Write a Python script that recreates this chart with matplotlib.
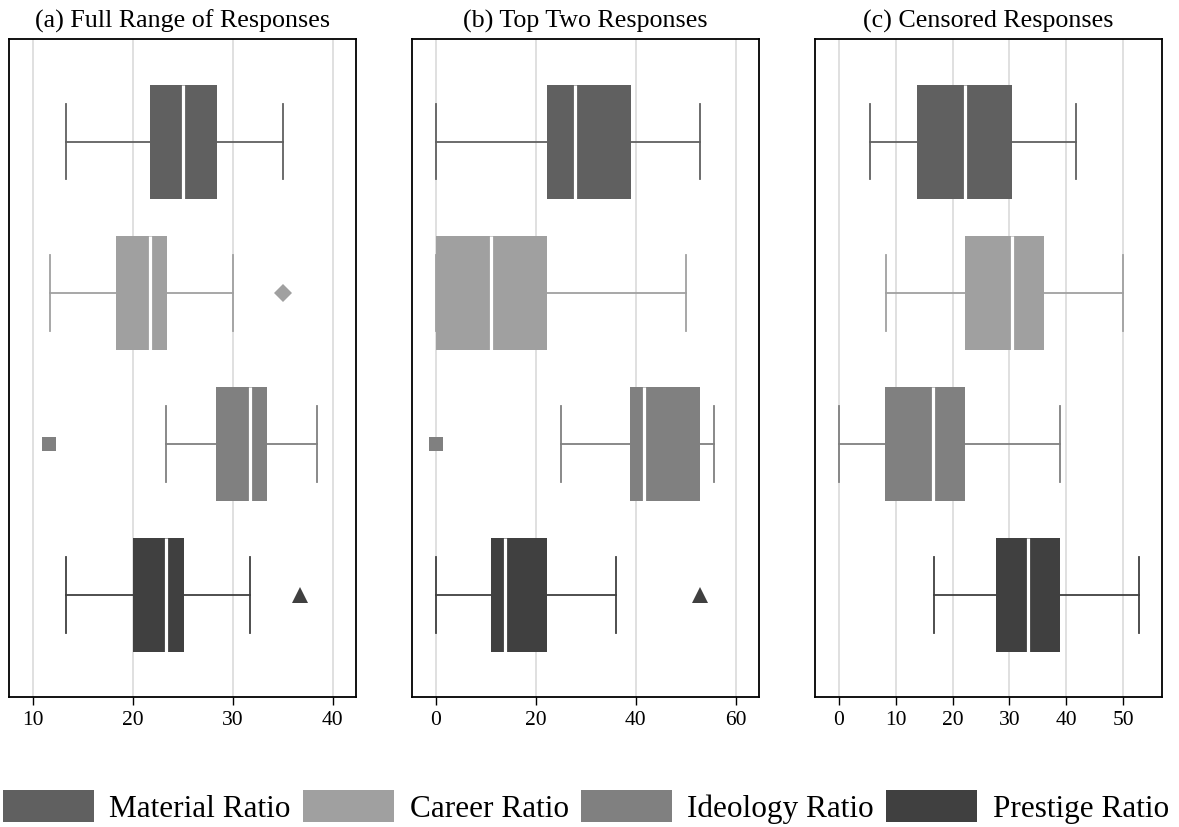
import matplotlib
matplotlib.use("Agg")
import matplotlib.pyplot as plt
from matplotlib.patches import Patch

plt.rcParams['font.family'] = ['Liberation Serif', 'DejaVu Serif']

series = ['Material Ratio', 'Career Ratio', 'Ideology Ratio', 'Prestige Ratio']
colors = ['#606060', '#a0a0a0', '#808080', '#404040']
flier_markers = ['o', 'D', 's', '^']
flier_sizes = [8, 9.2, 9.4, 11]

titles = ['(a) Full Range of Responses', '(b) Top Two Responses', '(c) Censored Responses']

# per panel: whislo, q1, median, q3, whishi (Material, Career, Ideology, Prestige)
full_whislo = [13.3, 11.7, 23.3, 13.3]
full_q1 = [21.7, 18.3, 28.3, 20.0]
full_med = [25.0, 21.7, 31.7, 23.3]
full_q3 = [28.4, 23.4, 33.4, 25.1]
full_whishi = [35.0, 30.0, 38.4, 31.7]
full_fliers = [[], [35.0], [11.6], [36.7]]

top2_whislo = [0.0, 0.0, 25.0, 0.0]
top2_q1 = [22.3, 0.0, 38.9, 11.1]
top2_med = [27.8, 11.1, 41.7, 13.9]
top2_q3 = [39.1, 22.3, 52.9, 22.3]
top2_whishi = [52.8, 50.1, 55.6, 36.1]
top2_fliers = [[], [], [0.0], [52.8]]

cens_whislo = [5.5, 8.3, 0.0, 16.7]
cens_q1 = [13.8, 22.1, 8.2, 27.7]
cens_med = [22.2, 30.5, 16.6, 33.3]
cens_q3 = [30.5, 36.1, 22.2, 38.9]
cens_whishi = [41.7, 50.0, 38.9, 52.8]
cens_fliers = [[], [], [], []]

panels = [
    (full_whislo, full_q1, full_med, full_q3, full_whishi, full_fliers, (7.6, 42.35), [10, 20, 30, 40]),
    (top2_whislo, top2_q1, top2_med, top2_q3, top2_whishi, top2_fliers, (-4.8, 64.65), [0, 20, 40, 60]),
    (cens_whislo, cens_q1, cens_med, cens_q3, cens_whishi, cens_fliers, (-4.22, 56.8), [0, 10, 20, 30, 40, 50]),
]

fig = plt.figure(figsize=(11.79, 8.27), dpi=100)
lefts = [0.0076, 0.3492, 0.691]
positions = [3, 2, 1, 0]

for k, (wlo, q1, med, q3, whi, fl, xlim, ticks) in enumerate(panels):
    ax = fig.add_axes([lefts[k], 0.1566, 0.2946, 0.7962])
    ax.set_axisbelow(True)
    ax.grid(axis='x', color='#dddddd', linewidth=1.3)
    for i in range(4):
        st = [dict(whislo=wlo[i], q1=q1[i], med=med[i], q3=q3[i], whishi=whi[i], fliers=fl[i])]
        ax.bxp(st, positions=[positions[i]], widths=0.755, capwidths=0.5,
               orientation='horizontal', patch_artist=True, manage_ticks=False,
               boxprops=dict(facecolor=colors[i], edgecolor='none', linewidth=0),
               medianprops=dict(color='white', linewidth=2.3),
               whiskerprops=dict(color=colors[i], linewidth=1.3),
               capprops=dict(color=colors[i], linewidth=1.3),
               flierprops=dict(marker=flier_markers[i], markerfacecolor=colors[i],
                               markeredgewidth=0, markersize=flier_sizes[i]))
    ax.set_xlim(*xlim)
    ax.set_ylim(-0.68, 3.68)
    ax.set_xticks(ticks)
    ax.set_yticks([])
    ax.tick_params(axis='x', direction='out', length=6, width=1, labelsize=15.5, pad=4)
    for s in ax.spines.values():
        s.set_linewidth(1.3)
    ax.set_title(titles[k], fontsize=18.7, pad=8)

handles = [Patch(facecolor=c, edgecolor='none') for c in colors]
fig.legend(handles, series, loc='center', bbox_to_anchor=(0.497, 0.024), ncol=4,
           frameon=False, fontsize=22.5, handlelength=2.9, handleheight=1.2,
           handletextpad=0.5, columnspacing=0.4, borderpad=0, borderaxespad=0)

fig.savefig('out.png', dpi=100)
